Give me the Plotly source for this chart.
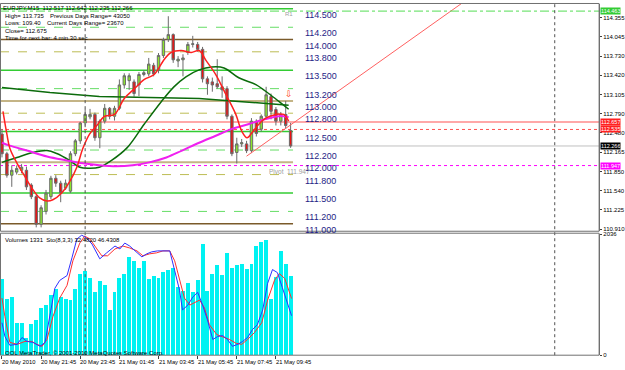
import plotly.graph_objects as go

# ---------------- DATA ----------------
bar_idx = list(range(60))
opens = [112.46, 112.14, 111.79, 111.84, 111.87, 111.87, 111.63, 111.44, 110.99, 111.20,
         111.44, 111.74, 111.66, 111.58, 111.53, 112.14, 112.35, 112.64, 112.74, 112.78,
         112.40, 112.67, 112.88, 112.75, 112.88, 113.26, 113.33, 113.31, 113.26, 113.43,
         113.44, 113.58, 113.50, 113.74, 114.00, 114.08, 113.65, 113.67, 113.79, 113.92,
         113.92, 113.84, 113.36, 113.31, 113.28, 113.23, 113.20, 112.75, 112.16, 112.30,
         112.30, 112.19, 112.67, 112.54, 112.75, 113.07, 112.86, 112.67, 112.78, 112.517]
highs = [112.54, 112.17, 111.95, 111.95, 111.97, 111.93, 111.66, 111.47, 111.30, 111.55,
         111.78, 111.79, 111.70, 111.72, 112.18, 112.38, 112.66, 112.87, 112.87, 112.81,
         112.70, 112.95, 112.90, 112.92, 113.35, 113.45, 113.45, 113.35, 113.47, 113.50,
         113.70, 113.62, 113.78, 114.03, 114.38, 114.10, 113.73, 113.76, 113.96, 114.06,
         113.96, 113.88, 113.40, 113.38, 113.68, 113.40, 113.24, 112.78, 112.40, 112.38,
         112.35, 112.72, 112.70, 112.78, 113.23, 113.12, 112.90, 112.82, 113.00, 112.642]
lows = [112.08, 111.75, 111.60, 111.80, 111.82, 111.55, 111.40, 110.94, 110.94, 111.15,
        111.40, 111.60, 111.35, 111.55, 111.50, 112.10, 112.30, 112.60, 112.70, 112.35,
        112.23, 112.63, 112.70, 112.68, 112.85, 113.20, 113.18, 113.07, 113.08, 113.40,
        113.40, 113.40, 113.45, 113.70, 113.96, 113.62, 113.55, 113.40, 113.75, 113.87,
        113.80, 113.30, 113.10, 113.15, 113.20, 113.05, 112.70, 112.10, 111.98, 112.25,
        112.15, 112.15, 112.42, 112.50, 112.70, 112.70, 112.60, 112.60, 112.55, 112.235]
closes = [112.14, 111.79, 111.87, 111.90, 111.92, 111.60, 111.44, 110.99, 111.26, 111.50,
          111.74, 111.66, 111.50, 111.66, 112.14, 112.35, 112.64, 112.78, 112.78, 112.40,
          112.67, 112.88, 112.75, 112.88, 113.26, 113.41, 113.41, 113.12, 113.43, 113.46,
          113.60, 113.44, 113.74, 114.00, 114.08, 113.67, 113.68, 113.70, 113.92, 113.93,
          113.84, 113.36, 113.28, 113.26, 113.23, 113.18, 112.75, 112.14, 112.30, 112.32,
          112.19, 112.67, 112.47, 112.75, 113.10, 112.83, 112.67, 112.78, 112.60, 112.266]
volumes = [1276, 947, 974, 537, 547, 291, 520, 591, 783, 837,
           1002, 1112, 974, 947, 920, 1112, 1358, 1412, 1302, 1056,
           1248, 1182, 755, 1067, 1302, 1368, 1642, 1588, 1466, 1576,
           1276, 1330, 1302, 1400, 1424, 1456, 1138, 1084, 1220, 1056,
           1259, 1860, 1084, 1358, 1522, 1346, 1713, 1466, 1511, 1532,
           1440, 1532, 1834, 1905, 1933, 947, 1314, 1757, 1532, 1331]

# moving averages (bar position, price)
ma_red_x = [0.2, 1.0, 1.6, 3.1, 4.3, 6.1, 7.7, 9.2, 10.4, 12.2, 13.8, 15.3, 16.5, 17.9, 19.3,
            21.0, 23.0, 25.0, 27.1, 29.1, 31.1, 33.2, 34.6, 36.6, 38.7, 40.3, 41.7, 43.7,
            45.8, 47.8, 49.0, 50.1, 51.1, 52.5, 53.9, 56.0, 57.6, 58.6]
ma_red_y = [112.83, 112.46, 112.23, 111.98, 111.82, 111.58, 111.42, 111.37, 111.39, 111.50,
            111.68, 111.92, 112.22, 112.46, 112.59, 112.75, 112.78, 113.04, 113.20, 113.35,
            113.43, 113.68, 113.79, 113.82, 113.79, 113.82, 113.66, 113.43, 113.10, 112.78,
            112.51, 112.40, 112.48, 112.62, 112.72, 112.78, 112.78, 112.67]
ma_green_x = [0, 3.05, 6.3, 9.2, 11.2, 13.8, 15.9, 17.9, 19.9, 22.4, 25.6, 29.1, 32.6, 35.2,
              37.6, 40.3, 42.9, 45.4, 48.4, 51.9, 54.5, 56.6, 58.6]
ma_green_y = [111.999, 112.079, 112.159, 112.191, 112.143, 112.031, 111.919, 111.903, 111.919,
              112.031, 112.239, 112.624, 112.992, 113.233, 113.393, 113.505, 113.553, 113.537,
              113.377, 113.265, 113.121, 112.992, 112.864]
ma_long_x = [0, 9.8, 19.9, 30.1, 40.3, 48.4, 54.5, 58.6]
ma_long_y = [113.217, 113.137, 113.073, 113.057, 113.041, 112.992, 112.960, 112.928]
ma_mag_x = [0, 1.6, 5.1, 9.2, 13.2, 16.5, 19.9, 23.4, 26.7, 30.1, 33.6, 36.8, 40.3, 43.7,
            47.0, 50.5, 53.9, 56.6, 58.6]
ma_mag_y = [112.319, 112.271, 112.191, 112.095, 112.031, 111.983, 111.951, 111.935, 111.951,
            111.999, 112.079, 112.191, 112.319, 112.432, 112.544, 112.624, 112.704, 112.752,
            112.736]

# stochastic (8,3,3)
sto_main_x = [0, 0.6, 1.6, 3.1, 4.1, 5.1, 6.3, 7.8, 8.8, 9.8, 10.8, 11.8, 13.3, 14.3, 15.3,
              16.3, 17.3, 18.4, 19.4, 20, 21.4, 23.1, 24.1, 25.1, 26.1, 27.6, 28.6, 29.6,
              30.6, 31.8, 33.3, 34.3, 35.3, 36.3, 36.9, 38, 39, 40, 41, 42, 43.1, 44.1, 45.1,
              46.1, 47.1, 48.2, 49.2, 50.2, 51.2, 52.2, 53.3, 54.3, 55.3, 56.3, 57.3, 58.4, 59.2]
sto_main_y = [26.6, 15.3, 8.1, 8.9, 14.5, 11.3, 10.5, 7.3, 10.5, 31.5, 54.8, 61.3, 65.3, 79.8,
              95.2, 98.4, 96, 91.1, 83.1, 79, 83.9, 89.5, 87.1, 91.9, 89.5, 83.9, 80.6, 83.1,
              84.7, 85.5, 85.5, 85.5, 69.4, 53.2, 37.1, 41.1, 47.6, 51.6, 41.1, 29, 12.9, 15.3,
              16.1, 12.9, 7.3, 8.9, 11.3, 14.5, 21, 25, 37.1, 58.9, 70.2, 67.7, 55.6, 42.7, 32.4]
sto_sig_x = [0, 0.6, 1.6, 3.1, 4.7, 6.1, 7.1, 8.2, 9.2, 10.4, 11.8, 13.3, 14.5, 15.9, 16.9,
             18, 19.4, 20.4, 21.6, 23.1, 24.7, 26.1, 27.6, 28.8, 30.2, 31.6, 32.9, 34.3, 35.3,
             36.3, 37.3, 38.4, 39.4, 40.4, 41.4, 42.4, 43.9, 45.1, 46.5, 47.9, 49, 50.2, 51.6,
             53.1, 54.3, 55.7, 56.7, 57.8, 58.8, 59.2]
sto_sig_y = [46.8, 31.5, 10.5, 8.9, 11.3, 11.3, 8.9, 7.3, 12.9, 31.5, 46.8, 57.3, 77.4, 91.9,
             97.6, 95.2, 87.1, 81.5, 81.5, 87.1, 89.5, 87.9, 85.5, 81.5, 83.1, 83.9, 85.5, 85.5,
             77.4, 61.3, 46.8, 41.1, 43.5, 45.2, 38.7, 25, 16.9, 15.3, 12.9, 9.7, 8.9, 12.9,
             18.5, 26.6, 45.2, 61.3, 66.9, 62.9, 50.8, 46.43]

trend_x = [50, 100]
trend_y = [112.10, 114.93]

# round-number levels drawn across the bars
level_prices = [114.5, 114.2, 114.0, 113.8, 113.5, 113.2, 113.0, 112.8, 112.5, 112.2,
                112.0, 111.8, 111.5, 111.2, 111.0]
level_labels = ["114.500", "114.200", "114.000", "113.800", "113.500", "113.200", "113.000",
                "112.800", "112.500", "112.200", "112.000", "111.800", "111.500", "111.200",
                "111.000"]
level_kinds = ["g", "ld", "b", "od", "g", "ld", "t", "od", "g", "ld", "t", "od", "g", "ld", "b"]

price_ticks = [114.355, 114.045, 113.730, 113.420, 113.105, 112.790, 112.480, 112.165,
               111.850, 111.540, 111.225, 110.910]
price_tick_text = ["114.355", "114.045", "113.730", "113.420", "113.105", "112.790", "112.480",
                   "112.165", "111.850", "111.540", "111.225", "110.910"]
time_tick_idx = [0, 8, 16, 24, 32, 40, 48, 56]
time_tick_text = ["20 May 2010", "20 May 21:45", "20 May 23:45", "21 May 01:45",
                  "21 May 03:45", "21 May 05:45", "21 May 07:45", "21 May 09:45"]
day_sep_idx = [17, 113]

r1_price = 114.463
ma_upper_price = 112.657
ma_lower_price = 112.535
bid_price = 112.266
pivot_price = 111.947
vol_max = 2036

# ---------------- LAYOUT HELPERS ----------------
W, H = 625, 370
def px(p):
    return p / W
def py(p):
    return 1 - p / H

X_RANGE = [-0.407, 122.07]
PLOT_R = 602
FONT = "Liberation Sans"

fig = go.Figure()

# main price panel
fig.add_trace(go.Candlestick(
    x=bar_idx, open=opens, high=highs, low=lows, close=closes,
    increasing=dict(line=dict(color="#6b6b6b", width=1), fillcolor="#8CE62E"),
    decreasing=dict(line=dict(color="#6b6b6b", width=1), fillcolor="#EE1111"),
    whiskerwidth=0, xaxis="x", yaxis="y", hoverinfo="skip", showlegend=False))

fig.add_trace(go.Scatter(x=ma_long_x, y=ma_long_y, mode="lines",
                         line=dict(color="#0B6B0B", width=1.5), xaxis="x", yaxis="y",
                         hoverinfo="skip", showlegend=False))
fig.add_trace(go.Scatter(x=ma_green_x, y=ma_green_y, mode="lines", line_shape="spline",
                         line=dict(color="#0B6B0B", width=1.5), xaxis="x", yaxis="y",
                         hoverinfo="skip", showlegend=False))
fig.add_trace(go.Scatter(x=ma_mag_x, y=ma_mag_y, mode="lines", line_shape="spline",
                         line=dict(color="#F020F0", width=2), xaxis="x", yaxis="y",
                         hoverinfo="skip", showlegend=False))
fig.add_trace(go.Scatter(x=ma_red_x, y=ma_red_y, mode="lines", line_shape="spline",
                         line=dict(color="#FF2020", width=1.5), xaxis="x", yaxis="y",
                         hoverinfo="skip", showlegend=False))
fig.add_trace(go.Scatter(x=trend_x, y=trend_y, mode="lines",
                         line=dict(color="#FF6060", width=1), xaxis="x", yaxis="y",
                         hoverinfo="skip", showlegend=False))

# volume + stochastic panel
fig.add_trace(go.Bar(x=bar_idx, y=volumes, width=0.8, marker=dict(color="#00F2F2", line_width=0),
                     xaxis="x", yaxis="y2", hoverinfo="skip", showlegend=False))
fig.add_trace(go.Scatter(x=sto_sig_x, y=sto_sig_y, mode="lines",
                         line=dict(color="#FF3030", width=1), xaxis="x", yaxis="y3",
                         hoverinfo="skip", showlegend=False))
fig.add_trace(go.Scatter(x=sto_main_x, y=sto_main_y, mode="lines",
                         line=dict(color="#3030FF", width=1), xaxis="x", yaxis="y3",
                         hoverinfo="skip", showlegend=False))

shapes = []
level_style = {
    "g": dict(color="#33CC33", width=1.5, dash="solid"),
    "ld": dict(color="#66DD66", width=1, dash="dash"),
    "b": dict(color="#7A5A2A", width=1.5, dash="solid"),
    "od": dict(color="#BDBD55", width=1, dash="dash"),
    "t": dict(color="#C4B486", width=2, dash="solid"),
}
LEVEL_END = 59.5
annotations = []
for p, lab, k in zip(level_prices, level_labels, level_kinds):
    shapes.append(dict(type="line", xref="x", yref="y", x0=X_RANGE[0], x1=LEVEL_END,
                       y0=p, y1=p, line=level_style[k], layer="below"))
    annotations.append(dict(x=61.6, y=p, xref="x", yref="y", text=lab, showarrow=False,
                            xanchor="left", yanchor="top", yshift=1,
                            font=dict(family=FONT, size=9, color="#1E1E86")))

# full-width lines
shapes += [
    dict(type="line", xref="x", yref="y", x0=X_RANGE[0], x1=X_RANGE[1], y0=r1_price, y1=r1_price,
         line=dict(color="#55DD55", width=1, dash="dashdot")),
    dict(type="line", xref="x", yref="y", x0=X_RANGE[0], x1=X_RANGE[1], y0=ma_upper_price,
         y1=ma_upper_price, line=dict(color="#FFA8A8", width=2), layer="below"),
    dict(type="line", xref="x", yref="y", x0=X_RANGE[0], x1=X_RANGE[1], y0=ma_lower_price,
         y1=ma_lower_price, line=dict(color="#FF5050", width=1, dash="dot"), layer="below"),
    dict(type="line", xref="x", yref="y", x0=X_RANGE[0], x1=X_RANGE[1], y0=bid_price,
         y1=bid_price, line=dict(color="#C0C0C0", width=1), layer="below"),
    dict(type="line", xref="x", yref="y", x0=X_RANGE[0], x1=X_RANGE[1], y0=pivot_price,
         y1=pivot_price, line=dict(color="#FF00FF", width=1, dash="dot"), layer="below"),
]
for d in day_sep_idx:
    shapes.append(dict(type="line", xref="x", yref="paper", x0=d, x1=d, y0=py(358), y1=py(1),
                       line=dict(color="#505050", width=1, dash="dot")))
# panel frames
shapes += [
    dict(type="rect", xref="paper", yref="paper", x0=px(0.5), x1=px(PLOT_R), y0=py(232),
         y1=py(0.5), line=dict(color="#707070", width=1)),
    dict(type="rect", xref="paper", yref="paper", x0=px(0.5), x1=px(PLOT_R), y0=py(358),
         y1=py(234), line=dict(color="#707070", width=1)),
]

# price boxes on right axis
boxes = [(r1_price, "114.463", "#33CC33"), (ma_upper_price, "112.657", "#FF2020"),
         (ma_lower_price, "112.535", "#FF2020"), (bid_price, "112.266", "#000000"),
         (pivot_price, "111.947", "#FF00FF")]
for p, t, c in boxes:
    annotations.append(dict(x=px(PLOT_R + 1), y=p, xref="paper", yref="y", text=t,
                            showarrow=False, xanchor="left", yanchor="middle", bgcolor=c,
                            borderpad=0, height=6, font=dict(family=FONT, size=5.5, color="white")))

# time labels
for i, t in zip(time_tick_idx, time_tick_text):
    annotations.append(dict(x=i, y=py(365), xref="x", yref="paper", text=t, showarrow=False,
                            xanchor="left", yanchor="middle", xshift=-2,
                            font=dict(family=FONT, size=5.8, color="#000000")))

info = [("EURJPY,M15  112.517 112.642 112.235 112.266", 1, 5),
        ("High= 113.735", 3, 13), ("Previous Days Range= 43050", 48, 13),
        ("Lows: 109.40", 3, 20.5), ("Current Days Range= 23670", 45, 20.5),
        ("Close= 112.675", 3, 28), ("Time for next bar: 4 min 30 sec", 3, 35.5),
        ("Volumes 1331  Sto(8,3,3) 32.4820 46.4308", 3, 241),
        ("OOL MetaTrader, © 2001-2010 MetaQuotes Software Corp.", 3, 356)]
for t, x, y in info:
    annotations.append(dict(x=px(x), y=py(y), xref="paper", yref="paper", text=t,
                            showarrow=False, xanchor="left", yanchor="middle",
                            font=dict(family=FONT, size=6, color="#000000")))
annotations.append(dict(x=px(290), y=py(11), xref="paper", yref="paper", text="R1",
                        showarrow=False, xanchor="center", yanchor="middle",
                        font=dict(family=FONT, size=6, color="#A0A0A0")))
annotations.append(dict(x=px(268), y=py(171), xref="paper", yref="paper", text="Pivot  111.947",
                        showarrow=False, xanchor="left", yanchor="middle",
                        font=dict(family=FONT, size=6.5, color="#A0A0A0")))
annotations.append(dict(x=58.6, y=py(92), xref="x", yref="paper", text="⇩",
                        showarrow=False, xanchor="center", yanchor="middle",
                        font=dict(family="DejaVu Sans", size=9, color="#FF4010")))

fig.update_layout(
    width=W, height=H, margin=dict(l=0, r=0, t=0, b=0),
    paper_bgcolor="white", plot_bgcolor="white", showlegend=False, bargap=0,
    xaxis=dict(domain=[0, px(PLOT_R)], range=X_RANGE, anchor="y2", showgrid=False,
               zeroline=False, showticklabels=False, ticks="outside", ticklen=3,
               tickcolor="#404040", tickvals=time_tick_idx, rangeslider=dict(visible=False),
               fixedrange=True),
    yaxis=dict(domain=[py(232), py(1)], range=[110.877, 114.579], side="right", anchor="x",
               showgrid=False, zeroline=False, tickvals=price_ticks, ticktext=price_tick_text,
               ticks="outside", ticklen=2, tickcolor="#404040", showline=True,
               linecolor="#707070", tickfont=dict(family=FONT, size=6, color="#000000")),
    yaxis2=dict(domain=[py(358), py(235)], range=[0, vol_max], side="right", anchor="x",
                showgrid=False, zeroline=False, tickvals=[0, vol_max],
                ticktext=["0", str(vol_max)], ticks="outside", ticklen=2,
                tickcolor="#404040", showline=True, linecolor="#707070",
                tickfont=dict(family=FONT, size=6, color="#000000")),
    yaxis3=dict(overlaying="y2", range=[0, 99.2], visible=False, anchor="x"),
    shapes=shapes, annotations=annotations,
)

fig.write_html("out.html")
